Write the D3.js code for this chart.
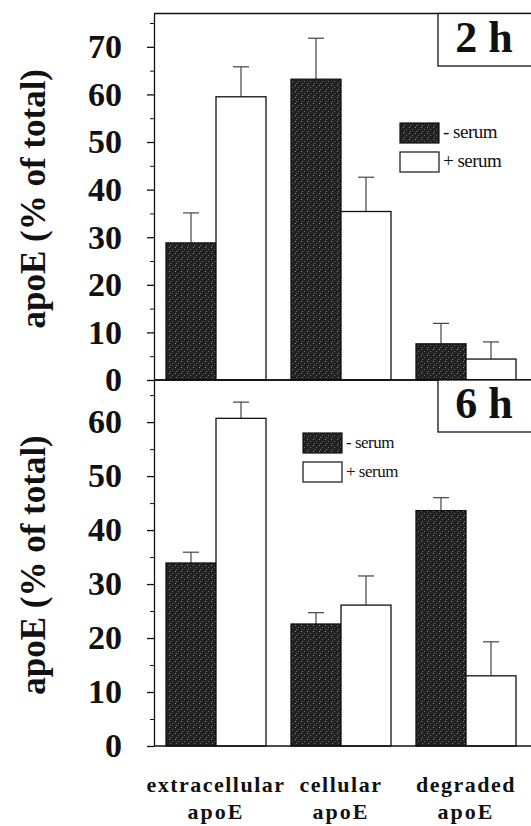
<!DOCTYPE html>
<html lang="en">

<head>
    <meta charset="UTF-8">
    <title>apoE</title>
    <script src="https://d3js.org/d3.v7.min.js"></script>
    <style>
        body { margin: 0; background: #fff; }
        svg text { font-family: "Liberation Serif", "Tinos", "DejaVu Serif", "Times New Roman", Times, serif !important; }
    </style>
</head>

<body>
    <script>
        // categories and series
        var categories = ["extracellular", "cellular", "degraded"];
        var series = ["- serum", "+ serum"];

        // 2 h panel (mean, error above the mean)
        var minus2h = [28.8, 63.2, 7.6];
        var minus2hErr = [6.3, 8.6, 4.3];
        var plus2h = [59.5, 35.4, 4.4];
        var plus2hErr = [6.3, 7.2, 3.6];

        // 6 h panel
        var minus6h = [33.9, 22.6, 43.6];
        var minus6hErr = [2.0, 2.1, 2.4];
        var plus6h = [60.7, 26.1, 13.0];
        var plus6hErr = [3.0, 5.4, 6.3];

        var yTicks2h = [0, 10, 20, 30, 40, 50, 60, 70];
        var yMinor2h = [5, 15, 25, 35, 45, 55, 65, 75];
        var yTicks6h = [0, 10, 20, 30, 40, 50, 60];
        var yMinor6h = [5, 15, 25, 35, 45, 55, 65];

        var width = 531, height = 826;
        var left = 154, right = 533;

        var svg = d3.select("body")
            .append("svg")
            .attr("width", width)
            .attr("height", height)
            .attr("font-family", "Liberation Serif, DejaVu Serif, serif");

        // stipple pattern for the dark bars
        var pat = svg.append("defs").append("pattern")
            .attr("id", "dots")
            .attr("width", 6).attr("height", 6)
            .attr("patternUnits", "userSpaceOnUse");
        pat.append("rect").attr("width", 6).attr("height", 6).attr("fill", "#222");
        pat.append("rect").attr("x", 1).attr("y", 1).attr("width", 1).attr("height", 1).attr("fill", "#888");
        pat.append("rect").attr("x", 4).attr("y", 3).attr("width", 1).attr("height", 1).attr("fill", "#666");
        pat.append("rect").attr("x", 2).attr("y", 5).attr("width", 1).attr("height", 1).attr("fill", "#777");

        var x = d3.scaleBand()
            .domain(categories)
            .range([153.5, 528.5])
            .paddingInner(0.2)
            .paddingOuter(0.1);
        var xs = d3.scaleBand()
            .domain(series)
            .range([0, x.bandwidth()]);

        function panel(y, minus, minusErr, plus, plusErr, ticks, minor, tag, tagBottom, legX, legY, legFont) {
            var g = svg.append("g");
            var y0 = y(0), yTop = y.range()[1];

            // frame
            g.append("line").attr("x1", left).attr("x2", right)
                .attr("y1", yTop).attr("y2", yTop)
                .attr("stroke", "#111").attr("stroke-width", 1.3);

            var rows = [];
            categories.forEach(function (c, i) {
                rows.push({ cat: c, s: series[0], v: minus[i], e: minusErr[i] });
                rows.push({ cat: c, s: series[1], v: plus[i], e: plusErr[i] });
            });

            // error bars
            rows.forEach(function (d) {
                var cx = x(d.cat) + xs(d.s) + xs.bandwidth() / 2;
                g.append("line").attr("x1", cx).attr("x2", cx)
                    .attr("y1", y(d.v)).attr("y2", y(d.v + d.e))
                    .attr("stroke", "#444").attr("stroke-width", 1.2);
                g.append("line").attr("x1", cx - 8).attr("x2", cx + 8)
                    .attr("y1", y(d.v + d.e)).attr("y2", y(d.v + d.e))
                    .attr("stroke", "#444").attr("stroke-width", 1.2);
            });

            g.selectAll("rect.bar")
                .data(rows)
                .enter()
                .append("rect")
                .attr("class", "bar")
                .attr("x", function (d) { return x(d.cat) + xs(d.s); })
                .attr("y", function (d) { return y(d.v); })
                .attr("width", xs.bandwidth())
                .attr("height", function (d) { return y0 - y(d.v); })
                .attr("fill", function (d) { return d.s == series[0] ? "url(#dots)" : "#fff"; })
                .attr("stroke", "#111")
                .attr("stroke-width", 1.3);

            // baseline
            g.append("line").attr("x1", left).attr("x2", right)
                .attr("y1", y0).attr("y2", y0)
                .attr("stroke", "#111").attr("stroke-width", 1.3);

            // y axis
            var ax = g.append("g")
                .attr("transform", "translate(" + left + ",0)")
                .call(d3.axisLeft(y).tickValues(ticks).tickSize(7).tickSizeOuter(0).tickPadding(25));
            ax.attr("font-family", null).attr("font-size", null);
            ax.selectAll("text")
                .style("font-weight", "bold")
                .style("font-size", "34px")
                .attr("fill", "#111");
            ax.selectAll("line, path").attr("stroke", "#111").attr("stroke-width", 1.3);
            var mx = g.append("g")
                .attr("transform", "translate(" + left + ",0)")
                .call(d3.axisLeft(y).tickValues(minor).tickSize(4).tickSizeOuter(0).tickFormat(""));
            mx.select("path").remove();
            mx.selectAll("line").attr("stroke", "#111");

            // tag box
            g.append("rect").attr("x", 438).attr("y", yTop)
                .attr("width", 100).attr("height", tagBottom - yTop)
                .attr("fill", "#fff").attr("stroke", "#111").attr("stroke-width", 1.3);
            g.append("text").attr("x", 484).attr("y", tagBottom - 14)
                .attr("text-anchor", "middle")
                .style("font-weight", "bold").style("font-size", "44px")
                .attr("fill", "#111")
                .text(tag);

            // legend
            series.forEach(function (s, i) {
                g.append("rect").attr("x", legX).attr("y", legY + i * 29)
                    .attr("width", 39).attr("height", 20)
                    .attr("fill", i == 0 ? "url(#dots)" : "#fff")
                    .attr("stroke", "#111").attr("stroke-width", 1.2);
                g.append("text").attr("x", legX + 43).attr("y", legY + i * 29 + 15)
                    .style("font-size", legFont + "px")
                    .style("letter-spacing", "-0.5px")
                    .attr("fill", "#111")
                    .text(s);
            });

            // y title
            g.append("text")
                .attr("transform", "translate(45," + ((y0 + yTop) / 2 + 2) + ") rotate(-90)")
                .attr("text-anchor", "middle")
                .style("font-weight", "bold").style("font-size", "35px")
                .attr("fill", "#111")
                .text("apoE (% of total)");
        }

        var y2h = d3.scaleLinear().domain([0, 77]).range([380, 13.5]);
        var y6h = d3.scaleLinear().domain([0, 67.8]).range([746, 380]);

        panel(y2h, minus2h, minus2hErr, plus2h, plus2hErr, yTicks2h, yMinor2h, "2 h", 66, 400, 123, 19);
        panel(y6h, minus6h, minus6hErr, plus6h, plus6hErr, yTicks6h, yMinor6h, "6 h", 432, 303, 433, 17);

        // category labels
        var lab = svg.append("g");
        categories.forEach(function (c) {
            var cx = x(c) + x.bandwidth() / 2;
            lab.append("text").attr("x", cx).attr("y", 792)
                .attr("text-anchor", "middle")
                .style("font-weight", "bold").style("font-size", "22px")
                .style("letter-spacing", "1.5px")
                .attr("fill", "#111")
                .text(c);
            lab.append("text").attr("x", cx).attr("y", 819)
                .attr("text-anchor", "middle")
                .style("font-weight", "bold").style("font-size", "22px")
                .style("letter-spacing", "2px")
                .attr("fill", "#111")
                .text("apoE");
        });
    </script>
</body>

</html>
